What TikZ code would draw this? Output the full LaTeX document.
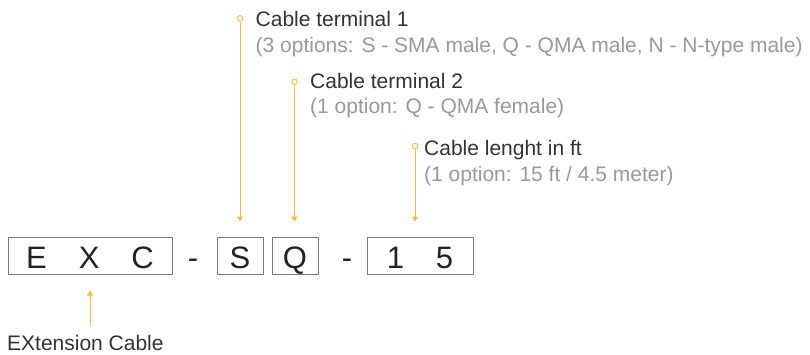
\documentclass[tikz,border=0pt]{standalone}
\usepackage{fontspec}
\setmainfont{Liberation Sans}
\usetikzlibrary{positioning}
\usetikzlibrary{arrows.meta}
\definecolor{pinorange}{RGB}{251,186,50}
\definecolor{titlegray}{RGB}{51,51,51}
\definecolor{optiongray}{RGB}{153,153,153}
\definecolor{boxgray}{RGB}{120,120,120}
\definecolor{codeblack}{RGB}{34,34,34}

\begin{document}
\begin{tikzpicture}[
    x=1pt, y=-1pt,
    codebox/.style={draw=boxgray, line width=1pt, inner sep=0pt, minimum height=37pt,
        text height=24pt, text depth=0pt, text=codeblack, font=\fontsize{31}{37}\selectfont},
    dashtext/.style={anchor=base, inner sep=0pt, text=codeblack, font=\fontsize{31}{37}\selectfont},
    pin/.style={circle, draw=pinorange, line width=0.9pt, fill=white, minimum size=5.5pt, inner sep=0pt},
    titleline/.style={anchor=base west, inner sep=0pt, text=titlegray, font=\fontsize{21}{25}\selectfont},
    optionline/.style={anchor=base west, inner sep=0pt, text=optiongray, font=\fontsize{21}{25}\selectfont},
    callout/.style={draw=pinorange, line width=1pt, -{Triangle[width=6pt,length=5pt]}},
    node distance=26pt
    ]
    \useasboundingbox (0,0) rectangle (810,354);

    %Code boxes
    \node[codebox, minimum width=164pt] (exc) at (90,256) {E\hspace{32pt}X\hspace{32pt}C};
    \node[dashtext] (dash1) at (193,268) {-};
    \node[codebox, minimum width=46pt] (sbox) at (240,256) {S};
    \node[codebox, minimum width=46pt] (qbox) at (295,256) {Q};
    \node[dashtext] (dash2) at (347,268) {-};
    \node[codebox, minimum width=106pt] (lenbox) at (420,256) {1\hspace{32pt}5};

    %Labels
    \node[titleline] (t1) at (255.5,26.7) {Cable terminal 1};
    \node[optionline, below=26pt of t1.base west, anchor=base west] (o1) {(3 options: S - SMA male, Q - QMA male, N - N-type male)};
    \node[titleline] (t2) at (310,88.3) {Cable terminal 2};
    \node[optionline, below=25pt of t2.base west, anchor=base west] (o2) {(1 option: Q - QMA female)};
    \node[titleline] (t3) at (424,155) {Cable lenght in ft};
    \node[optionline, below=26.5pt of t3.base west, anchor=base west] (o3) {(1 option: 15 ft / 4.5 meter)};
    \node[titleline] (ext) at (7,350.5) {EXtension Cable};

    %Pins
    \node[pin] (pin1) at (240,18.3) {};
    \node[pin] (pin2) at (294.5,81.7) {};
    \node[pin] (pin3) at (415,146) {};
    \coordinate (extfoot) at (90,325.7);

    %Lines
    \draw[callout, shorten >=15.5pt] (pin1) -- (pin1 |- sbox.north);
    \draw[callout, shorten >=15.5pt] (pin2) -- (pin2 |- qbox.north);
    \draw[callout, shorten >=15.5pt] (pin3) -- (pin3 |- lenbox.north);
    \draw[callout, shorten >=15.5pt] (extfoot) -- (extfoot |- exc.south);

    \end{tikzpicture}
\end{document}
